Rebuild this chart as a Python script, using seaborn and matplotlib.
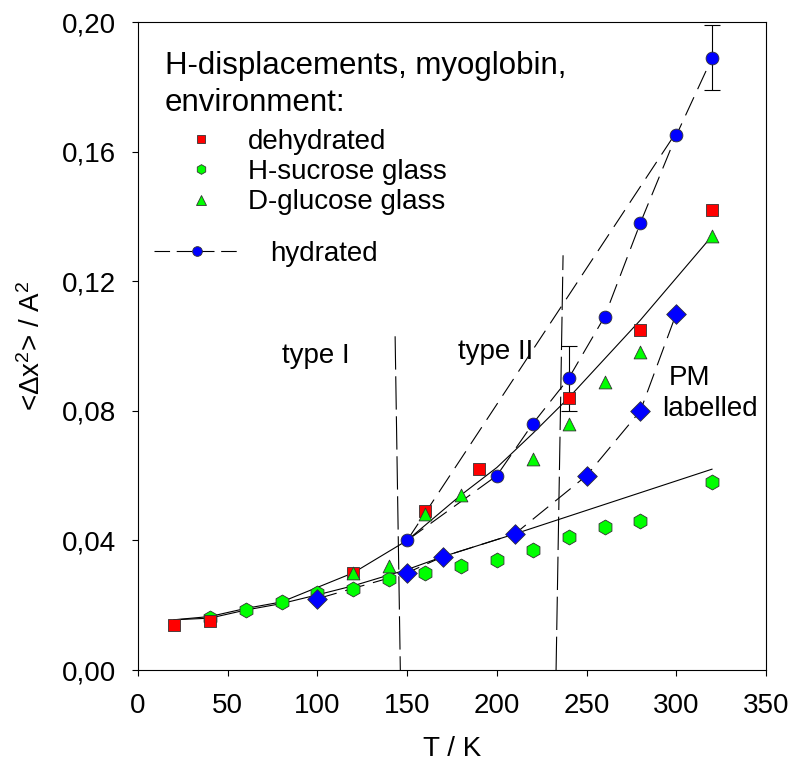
import numpy as np
import matplotlib
matplotlib.use("Agg")
import matplotlib.pyplot as plt
import seaborn as sns
from matplotlib.lines import Line2D
from matplotlib.ticker import FuncFormatter

T_dehyd = [20, 40, 120, 160, 190, 240, 280, 320]
y_dehyd = [0.014, 0.015, 0.030, 0.049, 0.062, 0.084, 0.105, 0.142]

T_sucrose = [40, 60, 80, 100, 120, 140, 160, 180, 200, 220, 240, 260, 280, 320]
y_sucrose = [0.016, 0.0185, 0.021, 0.0237, 0.025, 0.028, 0.030, 0.032, 0.034, 0.037,
             0.041, 0.044, 0.046, 0.058]

T_glucose = [120, 140, 160, 180, 220, 240, 260, 280, 320]
y_glucose = [0.030, 0.032, 0.048, 0.054, 0.065, 0.076, 0.089, 0.098, 0.134]

T_hydr = [150, 200, 220, 240, 260, 280, 300, 320]
y_hydr = [0.040, 0.060, 0.076, 0.090, 0.109, 0.138, 0.165, 0.189]

T_pm = [100, 150, 170, 210, 250, 280, 300]
y_pm = [0.022, 0.030, 0.035, 0.042, 0.060, 0.080, 0.110]

# error bars (hydrated)
T_err = [240, 320]
y_err = [0.090, 0.189]
err = [0.010, 0.010]

# fit curves
T_fit_hi = [20, 40, 60, 80, 100, 120, 150, 180, 200, 220, 240, 260, 280, 300, 320]
y_fit_hi = [0.0155, 0.0165, 0.019, 0.021, 0.0255, 0.030, 0.040, 0.054, 0.0625, 0.073,
            0.084, 0.096, 0.108, 0.121, 0.134]
T_fit_lo = [20, 40, 60, 80, 100, 120, 150, 170, 210, 320]
y_fit_lo = [0.0155, 0.016, 0.0185, 0.0205, 0.0232, 0.026, 0.031, 0.035, 0.042, 0.062]

# straight dashed line (type II onset)
T_lin = [150, 300]
y_lin = [0.040, 0.166]

# dividing lines
T_div1 = [143.3, 146.2]
y_div1 = [0.103, 0.0]
T_div2 = [236.9, 233.0]
y_div2 = [0.128, 0.0]

x_ticks = [0, 50, 100, 150, 200, 250, 300, 350]
y_ticks = [0.00, 0.04, 0.08, 0.12, 0.16, 0.20]

sns.set_theme(style="ticks")
plt.rcParams["font.family"] = ["Liberation Sans", "DejaVu Sans"]
plt.rcParams["mathtext.fontset"] = "custom"
plt.rcParams["mathtext.rm"] = "Liberation Sans"
plt.rcParams["mathtext.it"] = "Liberation Sans:italic"
plt.rcParams["text.color"] = "black"
plt.rcParams["axes.labelcolor"] = "black"

RED = "#FF0000"
GREEN = "#00FF00"
BLUE = "#0000FF"
EDGE = "#333333"
DASH = (0, (18, 8))

fig = plt.figure(figsize=(7.92, 7.64), dpi=100)
ax = fig.add_axes([138 / 792, 94 / 764, 628 / 792, 648 / 764])

line_kw = dict(color="black", linewidth=0.8, estimator=None, legend=False, zorder=1)
sns.lineplot(x=T_fit_hi, y=y_fit_hi, ax=ax, **line_kw)
sns.lineplot(x=T_fit_lo, y=y_fit_lo, ax=ax, **line_kw)
sns.lineplot(x=T_lin, y=y_lin, ax=ax, linestyle=DASH, **line_kw)
sns.lineplot(x=T_hydr, y=y_hydr, ax=ax, linestyle=DASH, **line_kw)
sns.lineplot(x=T_pm, y=y_pm, ax=ax, linestyle=DASH, **line_kw)
sns.lineplot(x=T_div1, y=y_div1, ax=ax, linestyle=(0, (30, 6)), **line_kw)
sns.lineplot(x=T_div2, y=y_div2, ax=ax, linestyle=(0, (30, 6)), **line_kw)

ax.errorbar(T_err, y_err, yerr=err, fmt="none", ecolor="black", elinewidth=0.8,
            capsize=6, capthick=0.8, zorder=2)

pt_kw = dict(edgecolor=EDGE, linewidth=0.6, legend=False, zorder=3)
sns.scatterplot(x=T_sucrose, y=y_sucrose, ax=ax, marker="h", s=115, color=GREEN, **pt_kw)
sns.scatterplot(x=T_dehyd, y=y_dehyd, ax=ax, marker="s", s=70, color=RED, **pt_kw)
sns.scatterplot(x=T_glucose, y=y_glucose, ax=ax, marker="^", s=85, color=GREEN, **pt_kw)
sns.scatterplot(x=T_hydr, y=y_hydr, ax=ax, marker="o", s=85, color=BLUE, **pt_kw)
sns.scatterplot(x=T_pm, y=y_pm, ax=ax, marker="D", s=100, color=BLUE, **pt_kw)

ax.set_xlim(0, 350)
ax.set_ylim(0, 0.20)
ax.set_xticks(x_ticks)
ax.set_yticks(y_ticks)
ax.yaxis.set_major_formatter(FuncFormatter(lambda v, p: f"{v:.2f}".replace(".", ",")))
ax.tick_params(direction="out", length=4.5, width=0.8, labelsize=20, colors="black")
ax.tick_params(axis="x", pad=12)
ax.tick_params(axis="y", pad=11)
for sp in ax.spines.values():
    sp.set_visible(True)
    sp.set_linewidth(0.8)
    sp.set_color("black")

ax.set_xlabel("T / K", fontsize=20, labelpad=12)
ax.set_ylabel(r"<Δx$^{2}$> / A$^{2}$", fontsize=20, labelpad=12)

ax.text(99, 0.097, "type I", fontsize=20, ha="center", va="center")
ax.text(199.5, 0.098, "type II", fontsize=20, ha="center", va="center")
ax.text(307.5, 0.090, "PM", fontsize=20, ha="center", va="center")
ax.text(318.5, 0.0806, "labelled", fontsize=20, ha="center", va="center")

ax.text(0.043, 0.9035, "H-displacements, myoglobin,\nenvironment:", transform=ax.transAxes,
        fontsize=22.5, ha="left", va="center", linespacing=1.3)

h1 = [
    Line2D([], [], linestyle="none", marker="s", markersize=5.5, markerfacecolor=RED,
           markeredgecolor=EDGE, markeredgewidth=0.6),
    Line2D([], [], linestyle="none", marker="h", markersize=7, markerfacecolor=GREEN,
           markeredgecolor=EDGE, markeredgewidth=0.6),
    Line2D([], [], linestyle="none", marker="^", markersize=6.5, markerfacecolor=GREEN,
           markeredgecolor=EDGE, markeredgewidth=0.6),
]
leg1 = ax.legend(h1, ["dehydrated", "H-sucrose glass", "D-glucose glass"],
                 loc="upper left", bbox_to_anchor=(0.056, 0.835), frameon=False,
                 fontsize=20, borderpad=0, borderaxespad=0, labelspacing=0.15,
                 handlelength=2.0, handletextpad=0.69)
ax.add_artist(leg1)

h2 = [Line2D([], [], color="black", linewidth=0.8, linestyle=(0, (14, 6)), marker="o",
             markersize=7, markerfacecolor=BLUE, markeredgecolor=EDGE, markeredgewidth=0.6)]
ax.legend(h2, ["hydrated"], loc="upper left", bbox_to_anchor=(0.0255, 0.662),
          frameon=False, fontsize=20, borderpad=0, borderaxespad=0,
          handlelength=3.09, handletextpad=1.1)

fig.savefig("out.png", dpi=100)
